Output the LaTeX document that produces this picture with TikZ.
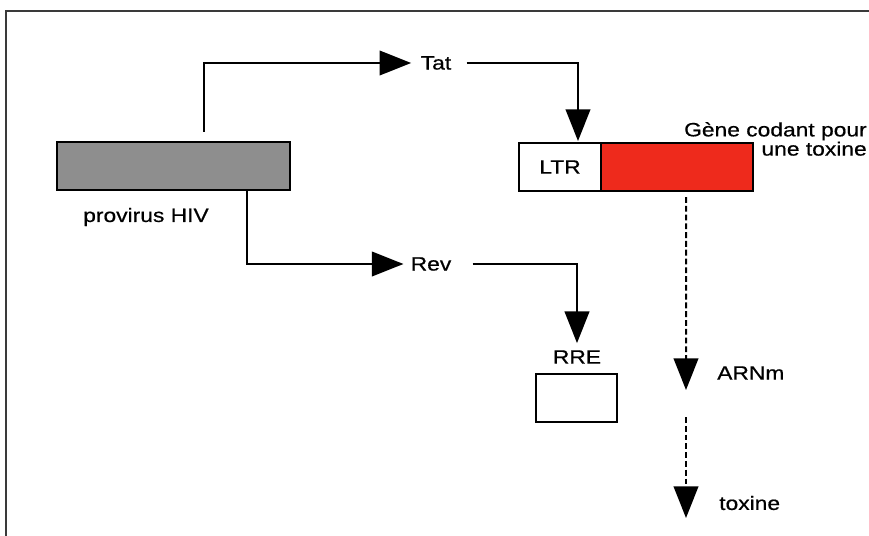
\documentclass[tikz,border=0pt]{standalone}
\usepackage{fontspec}
\setmainfont[FakeStretch=1.18,FakeBold=0.6]{Liberation Sans}
\usepackage{xcolor}
\usepackage{tikz}
\usetikzlibrary{arrows.meta,positioning,calc}
\definecolor{provgray}{HTML}{8E8E8E}
\definecolor{toxred}{HTML}{EE2A1C}
\definecolor{framegray}{HTML}{3A3A3A}
\tikzset{
  txt/.style={inner sep=0pt, font=\fontsize{16.5}{15.3}\selectfont},
  block/.style={draw, line width=1.3pt, minimum height=1.44cm, inner sep=0pt, outer sep=0pt, font=\fontsize{16.5}{15.3}\selectfont},
  line/.style={-{Triangle[length=27pt,width=21pt]}, line width=1.7pt},
  dotline/.style={line, dash pattern=on 5pt off 2.5pt},
  frame/.style={draw=framegray, line width=2pt}
}
\begin{document}
\begin{tikzpicture}[x=0.03cm, y=-0.03cm]
  \useasboundingbox (0,0) rectangle (869,536);
  \draw[frame] (6,536) -- (6,11) -- (869,11);

  \node[block, fill=provgray, minimum width=6.99cm] (provirus) at (173.5,166) {};
  \node[txt] (provlab) at (146,217) {provirus HIV};

  \node[txt] (tat) at (436,63) {Tat};
  \node[txt] (rev) at (431,264) {Rev};

  \node[block, fill=white, minimum width=2.46cm] (ltr) at (560,167) {LTR};
  \node[block, fill=toxred, minimum width=4.56cm, anchor=west] (toxgene) at (ltr.east) {};
  \node[txt, align=right, anchor=south east] (genelab) at (867,156) {Gène codant pour\\une toxine};

  \node[block, fill=white, minimum width=2.43cm] (rre) at (576.5,398) {};
  \node[txt] (rrelab) at (577,357) {RRE};

  \node[txt, anchor=west] (arnm) at (717,373) {ARNm};
  \node[txt, anchor=west] (toxine) at (719,503) {toxine};

  \draw[line] ($(provirus.north west)+(147,-10)$) |- ([xshift=-8pt]tat.west);
  \draw[line] ([xshift=13pt]tat.east) -| ($(ltr.north)+(18,-2)$);
  \draw[line] ($(provirus.south west)+(190,0)$) |- ([xshift=-6pt]rev.west);
  \draw[line] ([xshift=18pt]rev.east) -| ($(rrelab.north)+(0,-7)$);
  \draw[dotline] ($(toxgene.south west)+(85,6)$) -- ($(arnm.west)+(-31,17)$);
  \draw[dotline] ($(arnm.west)+(-31,44)$) -- ($(toxine.west)+(-33,15)$);
\end{tikzpicture}
\end{document}
